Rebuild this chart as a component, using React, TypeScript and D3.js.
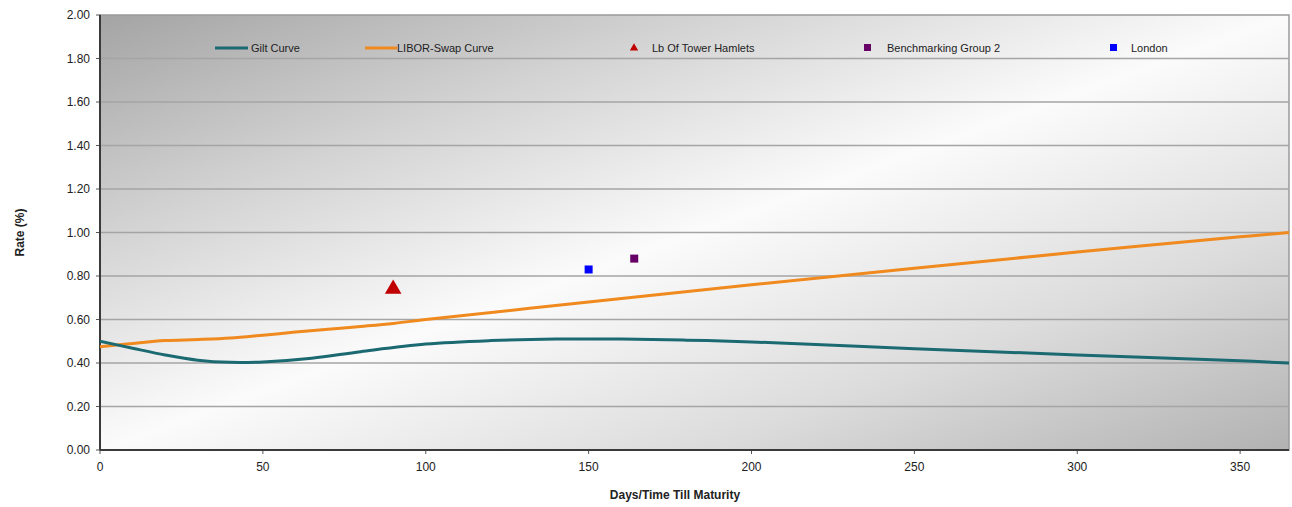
import React from 'react';
import * as d3 from 'd3';

const giltDays = [0, 10, 20, 30, 40, 50, 65, 80, 100, 120, 140, 160, 180, 200, 250, 300, 350, 365];
const giltRates = [0.5, 0.468, 0.437, 0.413, 0.403, 0.405, 0.422, 0.452, 0.487, 0.503, 0.51, 0.51, 0.505, 0.497, 0.466, 0.437, 0.41, 0.4];
const liborDays = [0, 10, 20, 30, 40, 50, 60, 70, 80, 90, 100, 150, 200, 250, 300, 350, 365];
const liborRates = [0.475, 0.49, 0.503, 0.508, 0.515, 0.528, 0.542, 0.555, 0.568, 0.582, 0.6, 0.68, 0.76, 0.836, 0.91, 0.98, 1.0];
const pointNames = ['Lb Of Tower Hamlets', 'Benchmarking Group 2', 'London'];
const pointDays = [90, 164, 150];
const pointRates = [0.74, 0.88, 0.83];
const yTicks = [0, 0.2, 0.4, 0.6, 0.8, 1.0, 1.2, 1.4, 1.6, 1.8, 2.0];
const xTicks = [0, 50, 100, 150, 200, 250, 300, 350];

const W = 1292, H = 507;
const L = 100, T = 15, R = 1289, B = 450;
const font = 'Arial, "Liberation Sans", sans-serif';

export default function App() {
  const x = d3.scaleLinear().domain([0, 365]).range([L, R]);
  const y = d3.scaleLinear().domain([0, 2]).range([B, T]);
  const line = d3.line<[number, number]>().x(d => x(d[0])).y(d => y(d[1])).curve(d3.curveCatmullRom.alpha(0.5));
  const gilt = line(giltDays.map((d, i) => [d, giltRates[i]]));
  const libor = line(liborDays.map((d, i) => [d, liborRates[i]]));
  const tri = d3.symbol().type(d3.symbolTriangle).size(120)();
  const legY = 48;
  return (
    <svg width={W} height={H} style={{ position: 'absolute', left: 0, top: 0 }} fontFamily={font}>
      <defs>
        <linearGradient id="bg" x1="0" y1="0" x2="1" y2="1">
          <stop offset="0" stopColor="#a4a4a4" />
          <stop offset="0.25" stopColor="#d2d2d2" />
          <stop offset="0.5" stopColor="#fbfbfb" />
          <stop offset="0.75" stopColor="#dcdcdc" />
          <stop offset="1" stopColor="#b2b2b2" />
        </linearGradient>
      </defs>
      <rect x={0} y={0} width={W} height={H} fill="#fff" />
      <rect x={L} y={T} width={R - L} height={B - T} fill="url(#bg)" stroke="#9a9a9a" strokeWidth={1.5} />
      {yTicks.slice(1, -1).map(t => (
        <line key={t} x1={L} x2={R} y1={y(t)} y2={y(t)} stroke="#a5a5a5" strokeWidth={1.5} />
      ))}
      {yTicks.map(t => (
        <g key={'y' + t}>
          <line x1={L - 4} x2={L} y1={y(t)} y2={y(t)} stroke="#555" />
          <text x={L - 10} y={y(t)} dy="0.35em" textAnchor="end" fontSize={12} fill="#222">{t.toFixed(2)}</text>
        </g>
      ))}
      {xTicks.map(t => (
        <g key={'x' + t}>
          <line x1={x(t)} x2={x(t)} y1={B} y2={B + 4} stroke="#555" />
          <text x={x(t)} y={B + 17} dy="0.35em" textAnchor="middle" fontSize={12} fill="#222">{t}</text>
        </g>
      ))}
      <line x1={L} x2={L} y1={T} y2={B} stroke="#3a3a3a" strokeWidth={2} />
      <line x1={L} x2={R} y1={B} y2={B} stroke="#3a3a3a" strokeWidth={2} />
      <path d={libor || ''} fill="none" stroke="#f0891e" strokeWidth={3} />
      <path d={gilt || ''} fill="none" stroke="#1b6a72" strokeWidth={3} />
      <path d={tri || ''} transform={`translate(${x(pointDays[0])},${y(pointRates[0])})`} fill="#c00000" />
      <rect x={x(pointDays[1]) - 4} y={y(pointRates[1]) - 4} width={8} height={8} fill="#660066" />
      <rect x={x(pointDays[2]) - 4} y={y(pointRates[2]) - 4} width={8} height={8} fill="#0000ff" />
      {/* legend */}
      <line x1={215} x2={248} y1={legY} y2={legY} stroke="#1b6a72" strokeWidth={3} />
      <text x={251} y={legY} dy="0.35em" fontSize={11} fill="#222">Gilt Curve</text>
      <line x1={365} x2={397} y1={legY} y2={legY} stroke="#f0891e" strokeWidth={3} />
      <text x={397} y={legY} dy="0.35em" fontSize={11} fill="#222">LIBOR-Swap Curve</text>
      <path d={d3.symbol().type(d3.symbolTriangle).size(30)() || ''} transform={`translate(634,${legY})`} fill="#c00000" />
      <text x={652} y={legY} dy="0.35em" fontSize={11} fill="#222">{pointNames[0]}</text>
      <rect x={864} y={legY - 4} width={7} height={7} fill="#660066" />
      <text x={887} y={legY} dy="0.35em" fontSize={11} fill="#222">{pointNames[1]}</text>
      <rect x={1110} y={legY - 4} width={7} height={7} fill="#0000ff" />
      <text x={1131} y={legY} dy="0.35em" fontSize={11} fill="#222">{pointNames[2]}</text>
      <text transform={`translate(20,${(T + B) / 2}) rotate(-90)`} textAnchor="middle" dy="0.35em" fontSize={12} fontWeight="bold" fill="#222">Rate (%)</text>
      <text x={675} y={495} textAnchor="middle" dy="0.35em" fontSize={12} fontWeight="bold" fill="#222">Days/Time Till Maturity</text>
    </svg>
  );
}
